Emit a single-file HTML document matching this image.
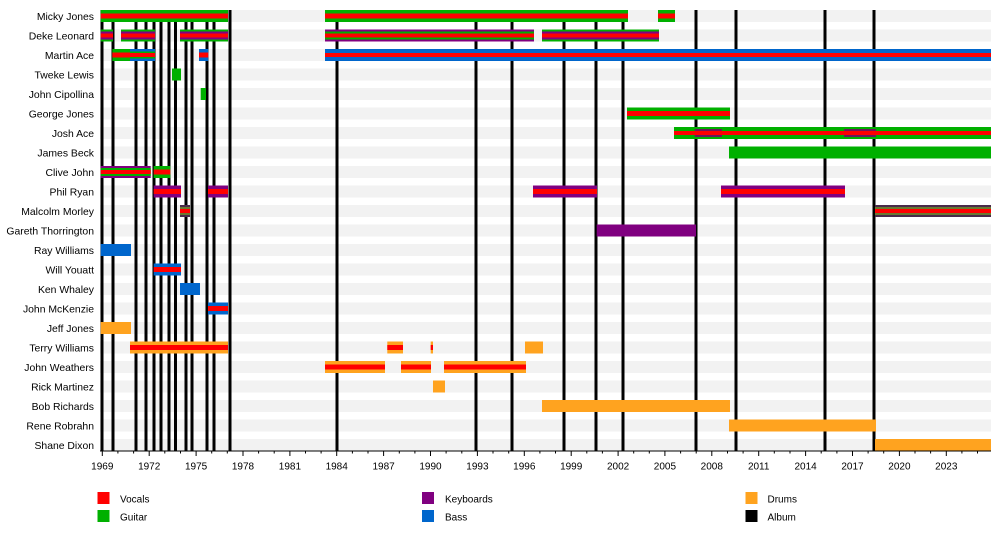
<!DOCTYPE html>
<html>
<head>
<meta charset="utf-8">
<style>
html,body{margin:0;padding:0;background:#fff;}
svg{display:block;}
text{font-family:"Liberation Sans",Arial,sans-serif;fill:#000;}
.lbl{font-size:10.4px;text-anchor:end;}
.tk{font-size:10px;text-anchor:middle;}
.lg{font-size:10px;}
</style>
</head>
<body>
<svg width="1000" height="550" viewBox="0 0 1000 550" xmlns="http://www.w3.org/2000/svg">
<rect width="1000" height="550" fill="#fff"/>
<!-- gray row bands -->
<g fill="#f2f2f2">
<rect x="100" y="10" width="891" height="12"/>
<rect x="100" y="29.5" width="891" height="12"/>
<rect x="100" y="49" width="891" height="12"/>
<rect x="100" y="68.5" width="891" height="12"/>
<rect x="100" y="88" width="891" height="12"/>
<rect x="100" y="107.5" width="891" height="12"/>
<rect x="100" y="127" width="891" height="12"/>
<rect x="100" y="146.5" width="891" height="12"/>
<rect x="100" y="166" width="891" height="12"/>
<rect x="100" y="185.5" width="891" height="12"/>
<rect x="100" y="205" width="891" height="12"/>
<rect x="100" y="224.5" width="891" height="12"/>
<rect x="100" y="244" width="891" height="12"/>
<rect x="100" y="263.5" width="891" height="12"/>
<rect x="100" y="283" width="891" height="12"/>
<rect x="100" y="302.5" width="891" height="12"/>
<rect x="100" y="322" width="891" height="12"/>
<rect x="100" y="341.5" width="891" height="12"/>
<rect x="100" y="361" width="891" height="12"/>
<rect x="100" y="380.5" width="891" height="12"/>
<rect x="100" y="400" width="891" height="12"/>
<rect x="100" y="419.5" width="891" height="12"/>
<rect x="100" y="439" width="891" height="12"/>
</g>
<!-- album lines -->
<g fill="#000">
<rect x="100.5" y="10" width="3" height="441"/>
<rect x="111.5" y="10" width="3" height="441"/>
<rect x="134.5" y="10" width="3" height="441"/>
<rect x="144.5" y="10" width="3" height="441"/>
<rect x="152.5" y="10" width="3" height="441"/>
<rect x="159.5" y="10" width="3" height="441"/>
<rect x="167.5" y="10" width="3" height="441"/>
<rect x="174" y="10" width="3" height="441"/>
<rect x="184.5" y="10" width="3" height="441"/>
<rect x="190.5" y="10" width="3" height="441"/>
<rect x="205.5" y="10" width="3" height="441"/>
<rect x="212.5" y="10" width="3" height="441"/>
<rect x="228.5" y="10" width="3" height="441"/>
<rect x="335.5" y="10" width="3" height="441"/>
<rect x="474.5" y="10" width="3" height="441"/>
<rect x="510.5" y="10" width="3" height="441"/>
<rect x="562.5" y="10" width="3" height="441"/>
<rect x="594.5" y="10" width="3" height="441"/>
<rect x="621.5" y="10" width="3" height="441"/>
<rect x="694.5" y="10" width="3" height="441"/>
<rect x="734.5" y="10" width="3" height="441"/>
<rect x="823.5" y="10" width="3" height="441"/>
<rect x="872.5" y="10" width="3" height="441"/>
</g>

<!-- Row 0 Micky Jones yc=16 -->
<g>
<rect x="100.7" y="10" width="127.3" height="12" fill="#00b000"/>
<rect x="100.7" y="13.5" width="127.3" height="5" fill="#ff0000"/>
<rect x="325" y="10" width="303" height="12" fill="#00b000"/>
<rect x="325" y="13.5" width="303" height="5" fill="#ff0000"/>
<rect x="658" y="10" width="17" height="12" fill="#00b000"/>
<rect x="658" y="13.5" width="17" height="5" fill="#ff0000"/>
</g>
<!-- Row 1 Deke Leonard yc=35.5 -->
<g>
<rect x="100.7" y="29.5" width="12.3" height="12" fill="#00b000"/>
<rect x="100.7" y="31.5" width="12.3" height="8" fill="#800080"/>
<rect x="100.7" y="33.5" width="12.3" height="4" fill="#ff0000"/>
<rect x="121" y="29.5" width="34" height="12" fill="#00b000"/>
<rect x="121" y="31.5" width="34" height="8" fill="#800080"/>
<rect x="121" y="33.5" width="34" height="4" fill="#ff0000"/>
<rect x="180" y="29.5" width="48" height="12" fill="#00b000"/>
<rect x="180" y="31.5" width="48" height="8" fill="#800080"/>
<rect x="180" y="33.5" width="48" height="4" fill="#ff0000"/>
<rect x="325" y="29.5" width="209" height="12" fill="#800080"/>
<rect x="325" y="31.5" width="209" height="8" fill="#00b000"/>
<rect x="325" y="33.5" width="209" height="4" fill="#ff0000"/>
<rect x="542" y="29.5" width="117" height="12" fill="#00b000"/>
<rect x="542" y="31.5" width="117" height="8" fill="#800080"/>
<rect x="542" y="33.5" width="117" height="4" fill="#ff0000"/>
</g>
<!-- Row 2 Martin Ace yc=55 -->
<g>
<rect x="112.3" y="49" width="17.7" height="12" fill="#00b000"/>
<rect x="112.3" y="52.5" width="17.7" height="5" fill="#ff0000"/>
<rect x="130" y="49" width="25" height="12" fill="#0066cc"/>
<rect x="130" y="51.5" width="25" height="7" fill="#00b000"/>
<rect x="130" y="53" width="25" height="4" fill="#ff0000"/>
<rect x="199" y="49" width="9.3" height="12" fill="#0066cc"/>
<rect x="199" y="52.5" width="9.3" height="5" fill="#ff0000"/>
<rect x="325" y="49" width="666" height="12" fill="#0066cc"/>
<rect x="325" y="53" width="666" height="4" fill="#ff0000"/>
</g>
<!-- Row 3 Tweke Lewis -->
<rect x="172" y="68.5" width="9" height="12" fill="#00b000"/>
<!-- Row 4 John Cipollina -->
<rect x="200.7" y="88" width="5.3" height="12" fill="#00b000"/>
<!-- Row 5 George Jones yc=113.5 -->
<rect x="627" y="107.5" width="103" height="12" fill="#00b000"/>
<rect x="627" y="111" width="103" height="5" fill="#ff0000"/>
<!-- Row 6 Josh Ace yc=133 -->
<rect x="674" y="127" width="317" height="12" fill="#00b000"/>
<rect x="694.7" y="129" width="27.3" height="8" fill="#6a1a5a"/>
<rect x="844" y="129" width="32" height="8" fill="#6a1a5a"/>
<rect x="674" y="131" width="317" height="4" fill="#ff0000"/>
<!-- Row 7 James Beck -->
<rect x="729" y="146.5" width="262" height="12" fill="#00b000"/>
<!-- Row 8 Clive John yc=172 -->
<rect x="100.7" y="166" width="50" height="12" fill="#800080"/>
<rect x="100.7" y="168" width="50" height="8" fill="#00b000"/>
<rect x="100.7" y="170" width="50" height="4" fill="#ff0000"/>
<rect x="153.7" y="166" width="16.6" height="12" fill="#00b000"/>
<rect x="153.7" y="169.5" width="16.6" height="5" fill="#ff0000"/>
<!-- Row 9 Phil Ryan yc=191.5 -->
<g>
<rect x="153.7" y="185.5" width="27.3" height="12" fill="#800080"/>
<rect x="153.7" y="189" width="27.3" height="5" fill="#ff0000"/>
<rect x="208" y="185.5" width="20" height="12" fill="#800080"/>
<rect x="208" y="189" width="20" height="5" fill="#ff0000"/>
<rect x="533" y="185.5" width="64" height="12" fill="#800080"/>
<rect x="533" y="189" width="64" height="5" fill="#ff0000"/>
<rect x="721" y="185.5" width="124" height="12" fill="#800080"/>
<rect x="721" y="189" width="124" height="5" fill="#ff0000"/>
</g>
<!-- Row 10 Malcolm Morley yc=211 -->
<g>
<rect x="180" y="205" width="10" height="12" fill="#4a2a4a"/>
<rect x="180" y="207" width="10" height="8" fill="#6a7a30"/>
<rect x="180" y="209" width="10" height="4" fill="#ff0000"/>
<rect x="875" y="205" width="116" height="12" fill="#4a2a4a"/>
<rect x="875" y="207" width="116" height="8" fill="#6a7a30"/>
<rect x="875" y="209" width="116" height="4" fill="#ff0000"/>
</g>
<!-- Row 11 Gareth Thorrington -->
<rect x="596.7" y="224.5" width="99.3" height="12" fill="#800080"/>
<!-- Row 12 Ray Williams -->
<rect x="100.7" y="244" width="30.3" height="12" fill="#0066cc"/>
<!-- Row 13 Will Youatt yc=269.5 -->
<rect x="153.7" y="263.5" width="27.3" height="12" fill="#0066cc"/>
<rect x="153.7" y="267" width="27.3" height="5" fill="#ff0000"/>
<!-- Row 14 Ken Whaley -->
<rect x="180" y="283" width="20" height="12" fill="#0066cc"/>
<!-- Row 15 John McKenzie yc=308.5 -->
<rect x="208" y="302.5" width="20" height="12" fill="#0066cc"/>
<rect x="208" y="306" width="20" height="5" fill="#ff0000"/>
<!-- Row 16 Jeff Jones -->
<rect x="100.7" y="322" width="30.3" height="12" fill="#ffa31f"/>
<!-- Row 17 Terry Williams yc=347.5 -->
<g>
<rect x="130" y="341.5" width="98" height="12" fill="#ffa31f"/>
<rect x="130" y="345" width="98" height="5" fill="#ff0000"/>
<rect x="387.3" y="341.5" width="15.7" height="12" fill="#ffa31f"/>
<rect x="387.3" y="345" width="15.7" height="5" fill="#ff0000"/>
<rect x="430.7" y="341.5" width="2.3" height="12" fill="#ffa31f"/>
<rect x="430.7" y="345" width="2.3" height="5" fill="#ff0000"/>
<rect x="525" y="341.5" width="18" height="12" fill="#ffa31f"/>
</g>
<!-- Row 18 John Weathers yc=367 -->
<g>
<rect x="325" y="361" width="60" height="12" fill="#ffa31f"/>
<rect x="325" y="364.5" width="60" height="5" fill="#ff0000"/>
<rect x="401" y="361" width="30" height="12" fill="#ffa31f"/>
<rect x="401" y="364.5" width="30" height="5" fill="#ff0000"/>
<rect x="444" y="361" width="82" height="12" fill="#ffa31f"/>
<rect x="444" y="364.5" width="82" height="5" fill="#ff0000"/>
</g>
<!-- Row 19 Rick Martinez -->
<rect x="433" y="380.5" width="12" height="12" fill="#ffa31f"/>
<!-- Row 20 Bob Richards -->
<rect x="542" y="400" width="188" height="12" fill="#ffa31f"/>
<!-- Row 21 Rene Robrahn -->
<rect x="729" y="419.5" width="147" height="12" fill="#ffa31f"/>
<!-- Row 22 Shane Dixon -->
<rect x="875" y="439" width="116" height="12" fill="#ffa31f"/>

<!-- axis -->
<rect x="100" y="450.5" width="891" height="1" fill="#000"/>
<g stroke="#000" stroke-width="1">
<line x1="102.3" y1="451" x2="102.3" y2="456"/>
<line x1="117.9" y1="451" x2="117.9" y2="453.5"/>
<line x1="133.6" y1="451" x2="133.6" y2="453.5"/>
<line x1="149.2" y1="451" x2="149.2" y2="456"/>
<line x1="164.8" y1="451" x2="164.8" y2="453.5"/>
<line x1="180.5" y1="451" x2="180.5" y2="453.5"/>
<line x1="196.1" y1="451" x2="196.1" y2="456"/>
<line x1="211.7" y1="451" x2="211.7" y2="453.5"/>
<line x1="227.3" y1="451" x2="227.3" y2="453.5"/>
<line x1="243.0" y1="451" x2="243.0" y2="456"/>
<line x1="258.6" y1="451" x2="258.6" y2="453.5"/>
<line x1="274.2" y1="451" x2="274.2" y2="453.5"/>
<line x1="289.9" y1="451" x2="289.9" y2="456"/>
<line x1="305.5" y1="451" x2="305.5" y2="453.5"/>
<line x1="321.1" y1="451" x2="321.1" y2="453.5"/>
<line x1="336.7" y1="451" x2="336.7" y2="456"/>
<line x1="352.4" y1="451" x2="352.4" y2="453.5"/>
<line x1="368.0" y1="451" x2="368.0" y2="453.5"/>
<line x1="383.6" y1="451" x2="383.6" y2="456"/>
<line x1="399.3" y1="451" x2="399.3" y2="453.5"/>
<line x1="414.9" y1="451" x2="414.9" y2="453.5"/>
<line x1="430.5" y1="451" x2="430.5" y2="456"/>
<line x1="446.1" y1="451" x2="446.1" y2="453.5"/>
<line x1="461.8" y1="451" x2="461.8" y2="453.5"/>
<line x1="477.4" y1="451" x2="477.4" y2="456"/>
<line x1="493.0" y1="451" x2="493.0" y2="453.5"/>
<line x1="508.7" y1="451" x2="508.7" y2="453.5"/>
<line x1="524.3" y1="451" x2="524.3" y2="456"/>
<line x1="539.9" y1="451" x2="539.9" y2="453.5"/>
<line x1="555.5" y1="451" x2="555.5" y2="453.5"/>
<line x1="571.2" y1="451" x2="571.2" y2="456"/>
<line x1="586.8" y1="451" x2="586.8" y2="453.5"/>
<line x1="602.4" y1="451" x2="602.4" y2="453.5"/>
<line x1="618.1" y1="451" x2="618.1" y2="456"/>
<line x1="633.7" y1="451" x2="633.7" y2="453.5"/>
<line x1="649.3" y1="451" x2="649.3" y2="453.5"/>
<line x1="664.9" y1="451" x2="664.9" y2="456"/>
<line x1="680.6" y1="451" x2="680.6" y2="453.5"/>
<line x1="696.2" y1="451" x2="696.2" y2="453.5"/>
<line x1="711.8" y1="451" x2="711.8" y2="456"/>
<line x1="727.5" y1="451" x2="727.5" y2="453.5"/>
<line x1="743.1" y1="451" x2="743.1" y2="453.5"/>
<line x1="758.7" y1="451" x2="758.7" y2="456"/>
<line x1="774.3" y1="451" x2="774.3" y2="453.5"/>
<line x1="790.0" y1="451" x2="790.0" y2="453.5"/>
<line x1="805.6" y1="451" x2="805.6" y2="456"/>
<line x1="821.2" y1="451" x2="821.2" y2="453.5"/>
<line x1="836.9" y1="451" x2="836.9" y2="453.5"/>
<line x1="852.5" y1="451" x2="852.5" y2="456"/>
<line x1="868.1" y1="451" x2="868.1" y2="453.5"/>
<line x1="883.7" y1="451" x2="883.7" y2="453.5"/>
<line x1="899.4" y1="451" x2="899.4" y2="456"/>
<line x1="915.0" y1="451" x2="915.0" y2="453.5"/>
<line x1="930.6" y1="451" x2="930.6" y2="453.5"/>
<line x1="946.3" y1="451" x2="946.3" y2="456"/>
<line x1="961.9" y1="451" x2="961.9" y2="453.5"/>
<line x1="977.5" y1="451" x2="977.5" y2="453.5"/>
</g>
<g class="tk">
<text class="tk" x="102.3" y="469.5">1969</text>
<text class="tk" x="149.2" y="469.5">1972</text>
<text class="tk" x="196.1" y="469.5">1975</text>
<text class="tk" x="243.0" y="469.5">1978</text>
<text class="tk" x="289.9" y="469.5">1981</text>
<text class="tk" x="336.7" y="469.5">1984</text>
<text class="tk" x="383.6" y="469.5">1987</text>
<text class="tk" x="430.5" y="469.5">1990</text>
<text class="tk" x="477.4" y="469.5">1993</text>
<text class="tk" x="524.3" y="469.5">1996</text>
<text class="tk" x="571.2" y="469.5">1999</text>
<text class="tk" x="618.1" y="469.5">2002</text>
<text class="tk" x="664.9" y="469.5">2005</text>
<text class="tk" x="711.8" y="469.5">2008</text>
<text class="tk" x="758.7" y="469.5">2011</text>
<text class="tk" x="805.6" y="469.5">2014</text>
<text class="tk" x="852.5" y="469.5">2017</text>
<text class="tk" x="899.4" y="469.5">2020</text>
<text class="tk" x="946.3" y="469.5">2023</text>
</g>

<!-- row labels -->
<g>
<text class="lbl" x="94" y="20">Micky Jones</text>
<text class="lbl" x="94" y="39.5">Deke Leonard</text>
<text class="lbl" x="94" y="59">Martin Ace</text>
<text class="lbl" x="94" y="78.5">Tweke Lewis</text>
<text class="lbl" x="94" y="98">John Cipollina</text>
<text class="lbl" x="94" y="117.5">George Jones</text>
<text class="lbl" x="94" y="137">Josh Ace</text>
<text class="lbl" x="94" y="156.5">James Beck</text>
<text class="lbl" x="94" y="176">Clive John</text>
<text class="lbl" x="94" y="195.5">Phil Ryan</text>
<text class="lbl" x="94" y="215">Malcolm Morley</text>
<text class="lbl" x="94" y="234.5">Gareth Thorrington</text>
<text class="lbl" x="94" y="254">Ray Williams</text>
<text class="lbl" x="94" y="273.5">Will Youatt</text>
<text class="lbl" x="94" y="293">Ken Whaley</text>
<text class="lbl" x="94" y="312.5">John McKenzie</text>
<text class="lbl" x="94" y="332">Jeff Jones</text>
<text class="lbl" x="94" y="351.5">Terry Williams</text>
<text class="lbl" x="94" y="371">John Weathers</text>
<text class="lbl" x="94" y="390.5">Rick Martinez</text>
<text class="lbl" x="94" y="410">Bob Richards</text>
<text class="lbl" x="94" y="429.5">Rene Robrahn</text>
<text class="lbl" x="94" y="449">Shane Dixon</text>
</g>

<!-- legend -->
<g>
<rect x="97.5" y="492" width="12" height="12" fill="#ff0000"/>
<text class="lg" x="120" y="502.5">Vocals</text>
<rect x="97.5" y="510" width="12" height="12" fill="#00b000"/>
<text class="lg" x="120" y="520.5">Guitar</text>
<rect x="422" y="492" width="12" height="12" fill="#800080"/>
<text class="lg" x="445" y="502.5">Keyboards</text>
<rect x="422" y="510" width="12" height="12" fill="#0066cc"/>
<text class="lg" x="445" y="520.5">Bass</text>
<rect x="745.5" y="492" width="12" height="12" fill="#ffa31f"/>
<text class="lg" x="767.5" y="502.5">Drums</text>
<rect x="745.5" y="510" width="12" height="12" fill="#000"/>
<text class="lg" x="767.5" y="520.5">Album</text>
</g>
</svg>
</body>
</html>
